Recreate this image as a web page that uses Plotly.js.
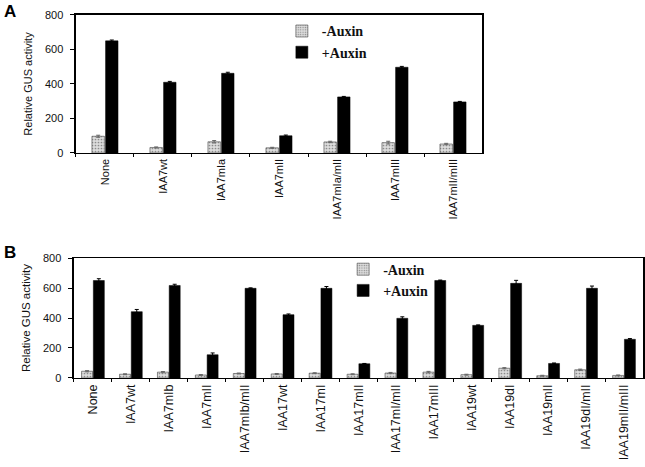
<!DOCTYPE html>
<html>
<head>
<meta charset="utf-8">
<script src="https://cdn.plot.ly/plotly-3.0.1.min.js"></script>
<style>
  body { margin: 0; background: #fff; }
  #plot { width: 645px; height: 467px; }
</style>
</head>
<body>
<div id="plot"></div>
<script>
// Panel A data
const catsA = ["None", "IAA7wt", "IAA7mIa", "IAA7mII", "IAA7mIa/mII", "IAA7mIII", "IAA7mII/mIII"];
const minusA = [97, 32, 65, 30, 64, 60, 52];
const minusAErr = [6, 3, 7, 3, 4, 8, 4];
const plusA = [650, 410, 462, 100, 325, 497, 296];
const plusAErr = [5, 5, 6, 4, 3, 5, 3];

// Panel B data
const catsB = ["None", "IAA7wt", "IAA7mIb", "IAA7mII", "IAA7mIb/mII", "IAA17wt", "IAA17mI",
  "IAA17mII", "IAA17mI/mII", "IAA17mIII", "IAA19wt", "IAA19dI", "IAA19mII", "IAA19dI/mII", "IAA19mII/mIII"];
const minusB = [45, 25, 39, 20, 30, 27, 32, 25, 33, 39, 22, 65, 15, 55, 17];
const minusBErr = [4, 3, 4, 3, 3, 3, 3, 3, 4, 5, 3, 4, 3, 4, 3];
const plusB = [650, 442, 617, 155, 598, 422, 598, 95, 398, 650, 351, 631, 97, 598, 258];
const plusBErr = [12, 15, 8, 12, 3, 5, 12, 2, 10, 3, 3, 20, 3, 15, 5];

const grayMarker = {
  color: "#d6d6d6",
  line: { color: "#444", width: 0.6 },
  pattern: { shape: ".", fgcolor: "#8a8a8a", bgcolor: "#dcdcdc", size: 3, solidity: 0.25 }
};
const blackMarker = { color: "#000", line: { color: "#000", width: 0.5 } };

const wA = 0.215;
const wB = 0.29;

const data = [
  {
    type: "bar", x: catsA, y: minusA, name: "-Auxin", xaxis: "x", yaxis: "y",
    width: wA, offset: -wA - 0.01, marker: grayMarker, legend: "legend",
    error_y: { type: "data", array: minusAErr, color: "#666", thickness: 1, width: 2 }
  },
  {
    type: "bar", x: catsA, y: plusA, name: "+Auxin", xaxis: "x", yaxis: "y",
    width: wA, offset: 0.01, marker: blackMarker, legend: "legend",
    error_y: { type: "data", array: plusAErr, color: "#000", thickness: 1, width: 2 }
  },
  {
    type: "bar", x: catsB, y: minusB, name: "-Auxin", xaxis: "x2", yaxis: "y2",
    width: wB, offset: -wB - 0.01, marker: grayMarker, legend: "legend2",
    error_y: { type: "data", array: minusBErr, color: "#666", thickness: 1, width: 2 }
  },
  {
    type: "bar", x: catsB, y: plusB, name: "+Auxin", xaxis: "x2", yaxis: "y2",
    width: wB, offset: 0.01, marker: blackMarker, legend: "legend2",
    error_y: { type: "data", array: plusBErr, color: "#000", thickness: 1, width: 2 }
  }
];

const tickFont = { family: "Liberation Sans, Arial, sans-serif", size: 11, color: "#111" };
const legendFont = { family: "Liberation Serif, Times New Roman, serif", size: 14, color: "#111", weight: "bold" };

const yBase = {
  range: [0, 800], dtick: 200, showgrid: false, zeroline: false,
  showline: true, mirror: true, linecolor: "#000", linewidth: 1.5,
  ticks: "outside", ticklen: 4, tickcolor: "#000", tickfont: tickFont,
  ticklabelstandoff: 5
};
const xBase = {
  type: "category", showgrid: false, showline: true, mirror: true,
  linecolor: "#000", linewidth: 1.5, ticks: "outside", ticklen: 3,
  tickcolor: "#000", tickson: "boundaries", tickangle: -90
};

const layout = {
  width: 645, height: 467,
  margin: { l: 0, r: 0, t: 0, b: 0 },
  paper_bgcolor: "#fff", plot_bgcolor: "#fff",
  showlegend: true,
  xaxis: Object.assign({}, xBase, {
    domain: [0.1178, 0.7473], anchor: "y",
    tickfont: { family: "Liberation Sans, Arial, sans-serif", size: 11, color: "#111" }
  }),
  yaxis: Object.assign({}, yBase, {
    domain: [0.6724, 0.9679], anchor: "x",
    title: { text: "Relative GUS activity", standoff: 10, font: { family: "Liberation Sans, Arial, sans-serif", size: 11, color: "#111" } }
  }),
  xaxis2: Object.assign({}, xBase, {
    domain: [0.1147, 0.9969], anchor: "y2",
    tickfont: { family: "Liberation Sans, Arial, sans-serif", size: 12.5, color: "#111" }
  }),
  yaxis2: Object.assign({}, yBase, {
    domain: [0.1906, 0.4475], anchor: "x2",
    title: { text: "Relative GUS activity", standoff: 10, font: { family: "Liberation Sans, Arial, sans-serif", size: 11.5, color: "#111" } }
  }),
  legend: {
    x: 0.437, y: 0.967, xanchor: "left", yanchor: "top",
    bgcolor: "rgba(0,0,0,0)", font: legendFont, tracegroupgap: 0
  },
  legend2: {
    x: 0.532, y: 0.457, xanchor: "left", yanchor: "top",
    bgcolor: "rgba(0,0,0,0)", font: legendFont, tracegroupgap: 0
  },
  annotations: [
    { text: "<b>A</b>", x: 0.003, y: 1.0, xref: "paper", yref: "paper", xanchor: "left", yanchor: "top",
      showarrow: false, font: { family: "Liberation Sans, Arial, sans-serif", size: 17, color: "#000" } },
    { text: "<b>B</b>", x: 0.003, y: 0.485, xref: "paper", yref: "paper", xanchor: "left", yanchor: "top",
      showarrow: false, font: { family: "Liberation Sans, Arial, sans-serif", size: 17, color: "#000" } }
  ]
};

Plotly.newPlot("plot", data, layout, { displayModeBar: false, staticPlot: true });
</script>
</body>
</html>
